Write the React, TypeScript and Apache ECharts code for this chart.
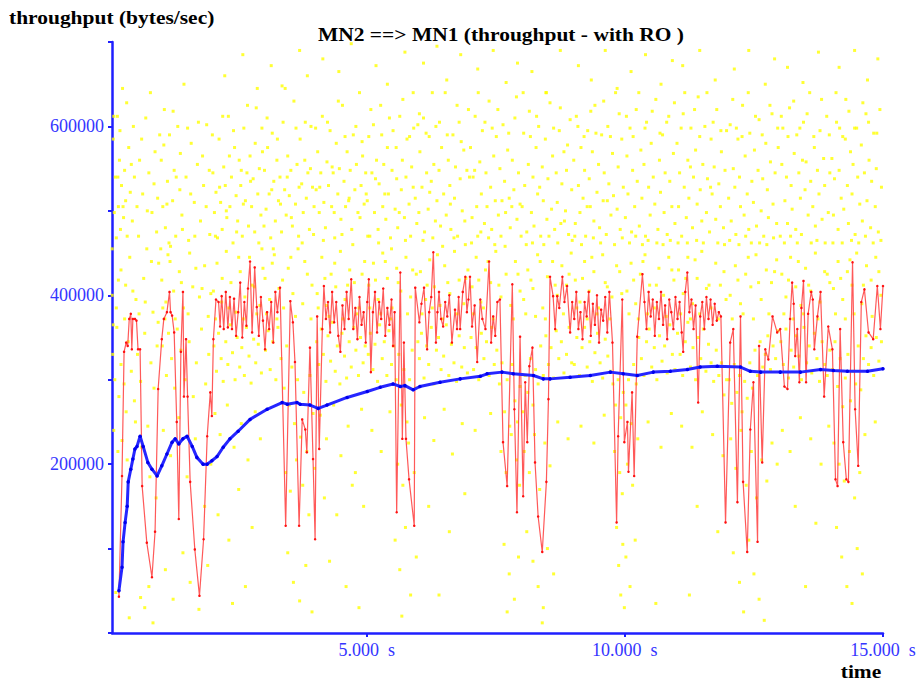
import React, { useEffect, useRef } from 'react';
import * as echarts from 'echarts';

// time axis (seconds) tick positions and throughput labels (bytes/sec)
const xTickValues = [5, 10, 15];
const yLabelValues = [200000, 400000, 600000];

// red: instantaneous throughput samples (time s, value in thousands of bytes/sec)
const redT = [
  0.20, 0.26, 0.30, 0.34, 0.37, 0.40, 0.43, 0.45, 0.47, 0.51, 0.54, 0.57, 0.61, 0.65, 0.74, 0.84, 0.90, 0.96,
  1.03, 1.07, 1.13, 1.18, 1.20, 1.23, 1.27, 1.32, 1.36, 1.40, 1.44, 1.46, 1.50, 1.53, 1.58, 1.67, 1.76, 1.84,
  1.91, 1.97, 2.00, 2.03, 2.08, 2.13, 2.16, 2.19,
  2.23, 2.27, 2.31, 2.35, 2.39, 2.43, 2.47, 2.51, 2.55, 2.59, 2.63, 2.67, 2.70, 2.74, 2.78, 2.83, 2.87, 2.91,
  2.95, 2.99, 3.03, 3.07, 3.11, 3.15, 3.19, 3.23, 3.27, 3.32, 3.43, 3.52, 3.57, 3.61, 3.69, 3.75, 3.81, 3.84,
  3.90, 3.96, 4.00, 4.04, 4.08, 4.14, 4.17,
  4.21, 4.25, 4.29, 4.33, 4.37, 4.41, 4.45, 4.49, 4.53, 4.57, 4.61, 4.65, 4.70, 4.74, 4.78, 4.82, 4.86, 4.90,
  4.94, 4.98, 5.01, 5.04, 5.08, 5.12, 5.16, 5.20, 5.24, 5.28, 5.32, 5.36, 5.40, 5.44, 5.48, 5.51, 5.54, 5.58,
  5.65, 5.69, 5.72, 5.76, 5.82, 5.92, 5.94,
  6.02, 6.06, 6.11, 6.17, 6.21, 6.25, 6.29, 6.34, 6.37, 6.40, 6.44, 6.48, 6.52, 6.56, 6.60, 6.65, 6.71, 6.75,
  6.78, 6.81, 6.86, 6.91, 6.94, 6.97, 7.00, 7.04, 7.09, 7.14, 7.20, 7.24, 7.30, 7.37, 7.41, 7.45, 7.49, 7.53, 7.58,
  7.64, 7.72, 7.82, 7.86, 7.91, 7.97, 8.03, 8.07, 8.11, 8.15, 8.21, 8.26, 8.32, 8.40, 8.48, 8.52, 8.55,
  8.61, 8.65, 8.69, 8.73, 8.79, 8.83, 8.88, 8.94, 8.98, 9.02, 9.06, 9.10, 9.14, 9.18, 9.22, 9.26, 9.30, 9.34,
  9.38, 9.42, 9.46, 9.50, 9.54, 9.58, 9.62, 9.66, 9.70, 9.76, 9.84, 9.87, 9.95, 9.99, 10.05, 10.07, 10.14, 10.18,
  10.24, 10.34,
  10.38, 10.42, 10.46, 10.50, 10.54, 10.58, 10.62, 10.66, 10.70, 10.74, 10.78, 10.82, 10.86, 10.90, 10.94, 10.98,
  11.02, 11.06, 11.10, 11.13, 11.17, 11.21, 11.25, 11.29, 11.33, 11.37, 11.42, 11.46, 11.50, 11.54, 11.58, 11.62,
  11.66, 11.70, 11.74, 11.78, 11.82, 11.86,
  11.95, 12.04, 12.10, 12.18, 12.24, 12.29, 12.37, 12.43, 12.49, 12.57, 12.60, 12.66, 12.72, 12.78, 12.86, 12.95,
  13.01, 13.09, 13.15, 13.20, 13.24, 13.27, 13.30, 13.34, 13.38, 13.42, 13.46, 13.51, 13.55, 13.61, 13.64, 13.67,
  13.73, 13.79, 13.86, 13.94, 14.02, 14.08, 14.12, 14.17, 14.23, 14.29, 14.33, 14.41, 14.46, 14.52, 14.58, 14.64,
  14.72, 14.81, 14.89, 14.95, 15.0,
];
const redV = [
  43, 186, 333, 344, 340, 372, 378, 336, 372, 372, 370, 336, 336, 174, 107, 66, 120, 289,
  348, 372, 380, 404, 380, 376, 356, 250, 135, 333, 404, 280, 348, 280, 179, 99, 44, 111,
  233, 285, 257, 348, 395, 392, 363, 399,
  360, 404, 362, 398, 360, 396, 352, 380, 415, 350, 392, 364, 408, 440, 356, 433, 386, 352,
  398, 370, 336, 380, 360, 392, 344, 404, 380, 409, 127, 393, 368, 321, 127, 253, 241, 214,
  338, 206, 111, 375, 218, 360, 411,
  372, 392, 356, 404, 368, 392, 352, 333, 388, 360, 404, 372, 419, 360, 385, 348, 398, 365,
  380, 344, 392, 419, 309, 380, 404, 356, 392, 372, 408, 352, 385, 365, 395, 340, 380, 143,
  427, 230, 344, 230, 182, 127, 409,
  368, 390, 409, 336, 380, 398, 451, 344, 380, 404, 372, 363, 392, 375, 400, 344, 383, 360,
  398, 360, 404, 422, 380, 395, 422, 363, 388, 321, 395, 372, 360, 440, 344, 375, 352, 392, 395,
  226, 174, 413, 265, 143, 351, 162, 297, 226, 316, 338, 202, 138, 96, 179, 277, 422,
  399, 360, 399, 385, 422, 392, 411, 356, 392, 372, 404, 360, 380, 348, 392, 375, 404, 352,
  390, 365, 400, 344, 383, 370, 398, 356, 404, 344, 131, 233, 395, 226, 250, 191, 285, 186,
  351, 425,
  392, 360, 404, 375, 395, 352, 392, 372, 404, 365, 388, 348, 395, 380, 360, 398,
  372, 392, 356, 333, 404, 427, 380, 395, 360, 388, 273, 375, 392, 360, 398, 372,
  395, 365, 390, 370, 380, 375,
  131, 344, 360, 155, 375, 179, 96, 241, 297, 108, 340, 202, 336, 324, 375, 356,
  360, 292, 289, 372, 415, 390, 328, 360, 297, 385, 417, 297, 378, 404, 395, 336,
  375, 404, 280, 363, 336, 182, 174, 360, 226, 182, 179, 439, 265, 198, 392, 407,
  356, 348, 411, 360, 411,
];

// blue: running average throughput (time s, value in thousands of bytes/sec)
const blueT = [
  0.20, 0.26, 0.28, 0.32, 0.36, 0.38, 0.43, 0.47, 0.51, 0.55, 0.61, 0.67, 0.76, 0.84, 0.94, 1.03, 1.13, 1.23,
  1.29, 1.36, 1.44, 1.52, 1.62, 1.71, 1.83, 1.91, 2.00, 2.10, 2.22, 2.35, 2.51, 2.74, 3.07, 3.36, 3.46, 3.65,
  3.71, 3.90, 4.06, 4.23, 4.62, 5.01, 5.26, 5.51, 5.65, 5.74, 5.90, 6.03, 6.42, 6.81, 7.20, 7.33, 7.62, 7.84,
  8.23, 8.42, 8.55, 8.94, 9.33, 9.72, 9.97, 10.24, 10.55, 10.88, 11.21, 11.46, 11.79, 12.24, 12.43, 12.63,
  13.01, 13.40, 13.79, 14.04, 14.31, 14.70, 15.0,
];
const blueV = [
  50, 78, 108, 131, 150, 179, 194, 206, 218, 221, 233, 221, 202, 194, 186, 198, 212, 226,
  230, 224, 230, 233, 221, 208, 200, 200, 204, 209, 220, 230, 239, 253, 265, 273, 271, 273,
  271, 270, 266, 270, 279, 286, 291, 295, 292, 293, 288, 292, 297, 301, 304, 307, 309, 307,
  305, 301, 301, 303, 305, 309, 307, 305, 309, 310, 312, 315, 316, 315, 310, 309,
  309, 309, 312, 311, 310, 310, 313,
];

// yellow: per-packet throughput samples [time s, value in thousands of bytes/sec]
const yellowDots: number[][] = [
  [0.05,520],[0.07,455],[0.09,585],[0.11,498],[0.13,540],[0.15,468],[0.17,612],[0.19,505],[0.21,560],[0.23,478],
  [0.25,530],[0.27,645],[0.29,492],[0.31,548],[0.33,512],[0.36,470],[0.39,575],[0.42,522],[0.46,488],[0.50,540],
  [0.55,505],[0.60,560],[0.66,520],[0.72,610],[0.78,545],[0.84,498],[0.90,570],[0.95,515],
  [0.08,330],[0.12,300],[0.16,362],[0.20,280],[0.24,318],[0.30,295],[0.34,262],[0.38,345],[0.44,310],[0.50,275],
  [0.56,330],[0.62,298],[0.70,355],[0.76,245],[0.82,320],[0.88,290],[0.94,340],
  [0.07,400],[0.15,385],[0.24,430],[0.33,412],[0.41,445],[0.53,395],[0.68,420],[0.74,455],[0.86,380],[0.97,438],
  [0.10,240],[0.18,215],[0.26,228],[0.36,205],[0.52,250],[0.64,220],[0.80,185],[0.92,160],
  [0.06,25],[0.14,48],[0.40,18],[0.62,42],[0.70,30],[0.78,55],[0.86,12],
  [1.02,560],[1.05,505],[1.08,620],[1.10,480],[1.14,535],[1.18,590],[1.20,458],[1.24,512],[1.27,548],[1.30,470],
  [1.34,600],[1.38,525],[1.42,495],[1.46,650],[1.50,540],[1.55,465],[1.60,580],[1.66,510],[1.72,555],[1.78,488],
  [1.84,530],[1.90,602],[1.96,472],
  [1.04,340],[1.09,372],[1.12,305],[1.16,355],[1.22,325],[1.28,290],[1.33,360],[1.40,335],[1.48,300],[1.56,345],
  [1.64,280],[1.70,320],[1.80,360],[1.88,295],[1.94,330],
  [1.03,418],[1.11,392],[1.19,440],[1.26,405],[1.37,428],[1.45,385],[1.57,450],[1.63,410],[1.76,398],[1.86,435],[1.98,402],
  [1.06,240],[1.20,210],[1.36,255],[1.52,185],[1.68,230],[1.86,150],[1.98,200],
  [1.10,75],[1.25,40],[1.44,95],[1.58,60],[1.75,28],[1.92,80],
  [2.02,545],[2.05,498],[2.08,522],[2.11,468],[2.14,585],[2.17,510],[2.20,478],[2.23,552],[2.26,530],[2.29,492],
  [2.32,612],[2.35,505],[2.38,540],[2.41,462],[2.44,575],[2.47,518],[2.50,488],[2.53,560],[2.56,530],[2.59,470],
  [2.62,598],[2.65,512],[2.68,545],[2.71,482],[2.74,565],[2.77,505],[2.80,538],[2.83,475],[2.86,622],[2.89,520],
  [2.92,550],[2.95,495],[2.98,570],
  [2.04,340],[2.09,310],[2.13,355],[2.18,325],[2.22,298],[2.27,345],[2.31,318],[2.36,365],[2.40,332],[2.45,300],
  [2.49,350],[2.54,315],[2.58,338],[2.63,305],[2.67,362],[2.72,328],[2.76,296],[2.81,348],[2.85,320],[2.90,342],[2.96,308],
  [2.03,405],[2.10,438],[2.19,392],[2.28,452],[2.37,415],[2.46,380],[2.55,428],[2.64,398],[2.73,445],[2.82,410],[2.93,388],[2.99,432],
  [2.06,260],[2.16,235],[2.30,270],[2.43,220],[2.57,248],[2.70,205],[2.84,262],[2.94,230],
  [2.12,140],[2.33,110],[2.52,170],[2.78,125],[2.40,35],[2.65,55],
  [2.25,660],[2.60,685],[2.88,645],
  [3.02,548],[3.05,502],[3.08,575],[3.11,520],[3.14,468],[3.17,592],[3.20,535],[3.23,488],[3.26,560],[3.29,512],
  [3.32,540],[3.35,475],[3.38,605],[3.41,525],[3.44,495],[3.47,565],[3.50,518],[3.53,548],[3.56,482],[3.59,630],
  [3.62,508],[3.65,555],[3.68,470],[3.71,585],[3.74,532],[3.77,498],[3.80,560],[3.83,515],[3.86,545],[3.89,478],
  [3.92,600],[3.95,528],[3.98,505],
  [3.04,335],[3.09,358],[3.13,312],[3.18,345],[3.24,300],[3.28,362],[3.34,325],[3.40,290],[3.45,340],[3.50,270],
  [3.55,315],[3.60,248],[3.66,300],[3.72,232],[3.78,285],[3.84,215],[3.90,305],[3.96,260],
  [3.03,420],[3.12,395],[3.21,448],[3.30,408],[3.39,385],[3.48,432],[3.57,402],[3.67,455],[3.76,390],[3.85,425],[3.94,412],
  [3.43,190],[3.52,168],[3.64,205],[3.76,175],[3.88,140],[3.99,195],
  [3.47,95],[3.58,60],[3.70,38],[3.82,80],[3.94,25],
  [3.15,672],[3.36,648],[3.70,690],[3.85,660],
  [4.02,525],[4.05,570],[4.08,498],[4.11,545],[4.14,612],[4.17,510],[4.20,480],[4.23,558],[4.26,530],[4.29,595],
  [4.32,505],[4.35,545],[4.38,468],[4.41,580],[4.44,520],[4.47,550],[4.50,490],[4.53,625],[4.56,535],[4.59,505],
  [4.62,570],[4.65,512],[4.68,548],[4.71,478],[4.74,590],[4.77,525],[4.80,555],[4.83,498],[4.86,640],[4.89,530],
  [4.92,565],[4.95,508],[4.98,545],
  [4.03,345],[4.07,318],[4.12,360],[4.16,330],[4.21,298],[4.25,352],[4.30,322],[4.34,368],[4.39,310],[4.43,340],
  [4.48,295],[4.52,355],[4.57,328],[4.61,302],[4.66,345],[4.70,315],[4.75,362],[4.79,335],[4.84,305],[4.88,350],
  [4.93,320],[4.97,340],
  [4.04,402],[4.13,445],[4.22,388],[4.31,425],[4.40,410],[4.49,452],[4.58,395],[4.67,430],[4.76,415],[4.85,385],[4.96,440],
  [4.10,258],[4.22,230],[4.36,270],[4.50,210],[4.64,245],[4.78,190],[4.90,265],
  [4.18,160],[4.42,140],[4.72,175],[4.94,150],
  [4.28,85],[4.60,55],[4.85,30],
  [4.15,680],[4.46,665],[4.70,698],
  [5.01,512],[5.04,588],[5.06,470],[5.10,545],[5.13,602],[5.15,498],[5.19,560],[5.22,478],[5.24,532],[5.27,625],
  [5.31,505],[5.33,555],[5.37,490],[5.40,575],[5.42,520],[5.46,468],[5.49,548],[5.51,595],[5.55,502],[5.58,538],
  [5.60,480],[5.64,612],[5.67,525],[5.69,560],[5.73,492],[5.76,540],[5.78,585],[5.82,508],[5.85,470],[5.87,552],
  [5.91,598],[5.94,515],[5.97,485],
  [5.03,330],[5.07,355],[5.12,312],[5.16,342],[5.21,298],[5.25,365],[5.30,325],[5.34,345],[5.39,305],[5.43,358],
  [5.48,318],[5.52,340],[5.57,300],[5.62,330],[5.67,270],[5.72,312],[5.78,250],[5.83,300],[5.88,335],[5.94,290],[5.99,345],
  [5.04,412],[5.13,438],[5.22,395],[5.31,450],[5.40,420],[5.49,385],[5.58,432],[5.66,405],[5.76,445],[5.85,398],[5.96,425],
  [5.10,240],[5.28,215],[5.45,262],[5.60,200],[5.70,175],[5.81,225],[5.92,190],
  [5.55,110],[5.64,75],[5.75,125],[5.85,45],[5.96,90],[5.68,20],
  [5.18,672],[5.40,650],[5.74,688],[5.90,640],
  [6.01,498],[6.03,570],[6.07,528],[6.10,610],[6.12,475],[6.16,545],[6.19,502],[6.21,588],[6.25,535],[6.28,468],
  [6.30,555],[6.34,600],[6.36,512],[6.40,548],[6.43,482],[6.45,575],[6.49,520],[6.52,640],[6.54,495],[6.58,560],
  [6.61,530],[6.63,478],[6.67,590],[6.70,515],[6.72,552],[6.76,470],[6.79,605],[6.81,538],[6.85,500],[6.88,572],
  [6.90,488],[6.94,548],[6.97,620],
  [6.02,325],[6.06,355],[6.11,302],[6.16,340],[6.20,318],[6.25,362],[6.30,295],[6.35,335],[6.39,350],[6.44,312],
  [6.49,328],[6.54,365],[6.59,305],[6.64,342],[6.69,320],[6.74,298],[6.79,352],[6.84,315],[6.89,338],[6.95,308],
  [6.04,428],[6.14,395],[6.22,442],[6.31,410],[6.42,388],[6.51,435],[6.61,402],[6.70,452],[6.79,418],[6.88,390],[6.96,430],
  [6.12,255],[6.30,228],[6.50,265],[6.66,212],[6.85,248],
  [6.20,150],[6.60,120],[6.90,165],[6.40,45],
  [6.10,675],[6.36,695],[6.55,655],[6.82,685],
  [7.01,575],[7.04,492],[7.06,540],[7.10,612],[7.13,505],[7.15,470],[7.19,558],[7.22,520],[7.24,595],[7.28,485],
  [7.31,545],[7.33,505],[7.37,630],[7.40,528],[7.42,478],[7.46,565],[7.49,512],[7.51,588],[7.55,495],[7.58,550],
  [7.60,470],[7.64,602],[7.67,535],[7.69,498],[7.73,572],[7.76,515],[7.78,480],[7.82,560],[7.85,525],[7.87,610],
  [7.91,490],[7.94,545],[7.97,508],
  [7.02,350],[7.07,312],[7.12,338],[7.17,300],[7.22,355],[7.27,325],[7.32,345],[7.37,305],[7.42,362],[7.47,318],
  [7.52,335],[7.57,295],[7.62,320],[7.67,262],[7.72,300],[7.77,245],[7.82,318],[7.87,275],[7.92,250],[7.97,292],
  [7.04,410],[7.12,445],[7.21,392],[7.30,430],[7.40,415],[7.50,452],[7.60,398],[7.70,425],[7.79,388],[7.88,440],[7.97,405],
  [7.10,240],[7.40,260],[7.60,215],[7.70,190],[7.80,235],[7.90,205],[7.96,175],
  [7.66,105],[7.76,70],[7.86,40],[7.94,90],[7.72,25],
  [7.15,668],[7.45,690],[7.70,652],[7.92,675],
  [8.01,505],[8.04,592],[8.06,530],[8.10,475],[8.13,555],[8.15,618],[8.19,498],[8.22,540],[8.24,482],[8.28,575],
  [8.31,520],[8.33,600],[8.37,470],[8.40,552],[8.42,512],[8.46,585],[8.49,490],[8.51,538],[8.55,628],[8.58,502],
  [8.60,565],[8.64,478],[8.67,545],[8.69,510],[8.73,595],[8.76,485],[8.78,532],[8.82,570],[8.85,500],[8.87,548],
  [8.91,472],[8.94,608],[8.97,525],
  [8.02,262],[8.07,305],[8.12,285],[8.17,325],[8.22,270],[8.27,312],[8.32,295],[8.37,340],[8.42,305],[8.47,352],
  [8.52,318],[8.57,338],[8.62,302],[8.67,358],[8.72,325],[8.77,345],[8.82,308],[8.87,330],[8.92,362],[8.97,320],
  [8.04,395],[8.12,430],[8.22,408],[8.31,448],[8.41,385],[8.50,422],[8.60,440],[8.69,400],[8.78,435],[8.87,412],[8.96,450],
  [8.05,215],[8.15,190],[8.25,235],[8.35,170],[8.45,225],[8.55,198],[8.70,250],[8.90,230],
  [8.10,120],[8.22,85],[8.32,55],[8.42,30],[8.50,100],[8.62,70],[8.40,12],
  [8.20,665],[8.48,640],[8.75,690],
  [9.01,560],[9.04,485],[9.06,612],[9.10,530],[9.13,498],[9.15,575],[9.19,515],[9.22,548],[9.24,470],[9.28,595],
  [9.31,538],[9.33,505],[9.37,570],[9.40,488],[9.42,625],[9.46,522],[9.49,555],[9.51,480],[9.55,590],[9.58,512],
  [9.60,545],[9.64,472],[9.67,600],[9.69,532],[9.73,495],[9.76,568],[9.78,518],[9.82,640],[9.85,502],[9.87,552],
  [9.91,478],[9.94,585],[9.97,528],
  [9.02,318],[9.07,350],[9.12,305],[9.17,338],[9.22,362],[9.27,315],[9.32,345],[9.37,298],[9.42,332],[9.47,355],
  [9.52,320],[9.57,302],[9.62,348],[9.67,328],[9.72,310],[9.77,295],[9.82,270],[9.87,300],[9.92,255],[9.97,285],
  [9.04,418],[9.13,392],[9.22,440],[9.31,405],[9.40,428],[9.49,385],[9.57,448],[9.66,410],[9.75,398],[9.84,435],[9.94,402],
  [9.15,245],[9.40,225],[9.60,258],[9.80,215],[9.90,190],[9.95,165],
  [9.84,125],[9.88,80],[9.92,45],[9.96,105],[9.99,30],
  [9.10,672],[9.35,655],[9.62,690],[9.85,645],
  [10.01,492],[10.04,565],[10.06,520],[10.10,598],[10.13,475],[10.15,548],[10.19,505],[10.22,620],[10.24,535],[10.28,482],
  [10.31,572],[10.33,515],[10.37,555],[10.40,470],[10.42,605],[10.46,528],[10.49,495],[10.51,580],[10.55,540],[10.58,508],
  [10.60,632],[10.64,478],[10.67,560],[10.69,522],[10.73,590],[10.76,498],[10.78,545],[10.82,472],[10.85,612],[10.87,535],
  [10.91,505],[10.94,568],[10.97,485],
  [10.02,270],[10.07,300],[10.12,248],[10.17,318],[10.22,295],[10.27,350],[10.32,325],[10.37,305],[10.42,345],[10.47,360],
  [10.52,315],[10.57,338],[10.62,300],[10.67,352],[10.72,322],[10.77,340],[10.82,308],[10.87,365],[10.92,330],[10.97,312],
  [10.04,405],[10.12,438],[10.21,390],[10.30,425],[10.39,448],[10.48,412],[10.57,385],[10.66,432],[10.75,400],[10.85,445],[10.95,418],
  [10.05,200],[10.15,175],[10.25,230],[10.45,250],[10.70,220],[10.90,260],
  [10.02,90],[10.10,55],[10.20,110],[10.60,35],
  [10.12,665],[10.40,685],[10.70,650],[10.92,678],
  [11.01,580],[11.04,505],[11.06,545],[11.10,470],[11.13,615],[11.15,528],[11.19,492],[11.22,560],[11.24,515],[11.28,598],
  [11.31,480],[11.33,540],[11.37,572],[11.40,508],[11.42,635],[11.46,525],[11.49,488],[11.51,555],[11.55,600],[11.58,498],
  [11.60,538],[11.64,475],[11.67,585],[11.69,520],[11.73,552],[11.76,490],[11.78,620],[11.82,532],[11.85,505],[11.87,570],
  [11.91,480],[11.94,548],[11.97,595],
  [11.02,355],[11.07,330],[11.12,305],[11.17,345],[11.22,368],[11.27,315],[11.32,338],[11.37,300],[11.42,350],[11.47,325],
  [11.52,360],[11.57,310],[11.62,342],[11.67,320],[11.72,298],[11.77,335],[11.82,305],[11.87,320],[11.92,282],[11.97,300],
  [11.04,430],[11.13,402],[11.22,445],[11.31,390],[11.40,420],[11.49,452],[11.58,408],[11.67,385],[11.76,438],[11.85,412],[11.96,395],
  [11.10,245],[11.30,220],[11.50,262],[11.70,235],[11.90,210],
  [11.40,150],[11.80,120],[11.25,45],
  [11.12,672],[11.45,690],[11.75,655],
  [12.01,515],[12.04,602],[12.06,488],[12.10,550],[12.13,528],[12.15,472],[12.19,585],[12.22,540],[12.24,505],[12.28,625],
  [12.31,495],[12.33,565],[12.37,520],[12.40,478],[12.42,592],[12.46,535],[12.49,510],[12.51,572],[12.55,482],[12.58,548],
  [12.60,608],[12.64,500],[12.67,538],[12.69,470],[12.73,580],[12.76,525],[12.78,492],[12.82,558],[12.85,615],[12.87,508],
  [12.91,545],[12.94,485],[12.97,575],
  [12.02,300],[12.07,272],[12.12,318],[12.17,285],[12.22,305],[12.27,262],[12.32,298],[12.37,278],[12.42,320],[12.47,290],
  [12.52,335],[12.57,305],[12.62,345],[12.67,315],[12.72,330],[12.77,352],[12.82,312],[12.87,340],[12.92,325],[12.97,358],
  [12.04,400],[12.14,435],[12.24,390],[12.34,425],[12.44,410],[12.54,448],[12.64,395],[12.74,430],[12.84,415],[12.94,442],
  [12.05,230],[12.15,195],[12.25,240],[12.35,175],[12.45,215],[12.55,160],[12.65,205],[12.75,180],[12.85,225],[12.95,200],
  [12.10,95],[12.22,60],[12.30,25],[12.40,110],[12.50,70],[12.60,40],[12.70,15],
  [12.12,668],[12.40,690],[12.72,650],[12.90,680],
  [13.01,470],[13.04,555],[13.06,598],[13.10,512],[13.13,540],[13.15,485],[13.19,622],[13.22,530],[13.24,502],[13.28,568],
  [13.31,478],[13.33,590],[13.37,545],[13.40,515],[13.42,472],[13.46,605],[13.49,525],[13.51,558],[13.55,495],[13.58,640],
  [13.60,535],[13.64,505],[13.67,575],[13.69,482],[13.73,548],[13.76,520],[13.78,595],[13.82,490],[13.85,562],[13.87,530],
  [13.91,612],[13.94,498],[13.97,545],
  [13.02,345],[13.07,318],[13.12,360],[13.17,302],[13.22,335],[13.27,315],[13.32,352],[13.37,328],[13.42,300],[13.47,362],
  [13.52,320],[13.57,340],[13.62,308],[13.67,355],[13.72,325],[13.77,298],[13.82,345],[13.87,318],[13.92,305],[13.97,335],
  [13.04,425],[13.12,398],[13.21,445],[13.31,410],[13.41,388],[13.50,432],[13.60,405],[13.69,450],[13.78,392],[13.87,428],[13.97,415],
  [13.05,240],[13.20,215],[13.40,255],[13.60,230],[13.80,200],[13.95,245],
  [13.30,150],[13.70,130],[13.50,55],
  [13.15,670],[13.45,652],[13.75,688],
  [14.01,562],[14.04,495],[14.06,538],[14.10,605],[14.13,478],[14.15,548],[14.19,515],[14.22,588],[14.24,502],[14.28,632],
  [14.31,530],[14.33,485],[14.37,570],[14.40,520],[14.42,555],[14.46,472],[14.49,598],[14.51,540],[14.55,508],[14.58,578],
  [14.60,488],[14.64,545],[14.67,615],[14.69,512],[14.73,560],[14.76,480],[14.78,535],[14.82,592],[14.85,505],[14.87,550],
  [14.91,475],[14.94,620],[14.97,528],
  [14.02,312],[14.07,345],[14.12,292],[14.17,325],[14.22,268],[14.27,302],[14.32,330],[14.37,275],[14.42,310],[14.47,295],
  [14.52,340],[14.57,288],[14.62,325],[14.67,352],[14.72,318],[14.77,338],[14.82,305],[14.87,350],[14.92,322],[14.97,345],
  [14.04,408],[14.13,440],[14.22,395],[14.31,428],[14.40,412],[14.49,450],[14.59,390],[14.68,435],[14.77,418],[14.86,445],[14.96,400],
  [14.05,225],[14.15,200],[14.25,180],[14.35,215],[14.45,160],[14.55,190],[14.65,235],[14.85,250],
  [14.10,125],[14.20,90],[14.30,55],[14.40,35],[14.50,100],[14.60,70],
  [14.15,670],[14.45,690],[14.70,655],[14.90,680],
];

// more yellow samples read from the dense cloud (upper band and the band behind the red trace)
const yellowDotsMore: number[][] = [
  [0.04,565],[0.10,612],[0.18,540],[0.22,595],[0.28,505],[0.35,628],[0.44,555],[0.48,600],[0.58,470],[0.64,585],[0.75,500],[0.81,640],[0.88,532],[0.93,475],[0.99,590],
  [1.01,455],[1.07,578],[1.13,508],[1.17,462],[1.25,618],[1.31,540],[1.39,568],[1.43,478],[1.53,598],[1.59,520],[1.67,470],[1.74,605],[1.82,565],[1.89,505],[1.95,548],
  [2.01,590],[2.07,470],[2.15,528],[2.21,612],[2.28,500],[2.34,565],[2.42,595],[2.48,475],[2.57,548],[2.61,508],[2.69,625],[2.75,535],[2.84,580],[2.91,462],[2.97,598],
  [3.01,482],[3.07,610],[3.16,525],[3.19,455],[3.27,585],[3.33,508],[3.42,645],[3.46,540],[3.54,492],[3.63,598],[3.69,528],[3.75,462],[3.81,605],[3.91,550],[3.97,472],
  [4.01,598],[4.09,528],[4.16,465],[4.24,605],[4.33,552],[4.37,498],[4.45,630],[4.52,472],[4.58,588],[4.66,515],[4.73,460],[4.79,600],[4.87,492],[4.91,582],[4.99,520],
  [5.02,470],[5.08,620],[5.17,538],[5.23,462],[5.29,590],[5.35,520],[5.44,610],[5.48,455],[5.57,575],[5.63,498],[5.70,632],[5.75,465],[5.83,588],[5.90,528],[5.99,602],
  [6.02,615],[6.09,465],[6.15,592],[6.22,522],[6.27,640],[6.33,488],[6.41,605],[6.47,458],[6.56,590],[6.62,508],[6.69,468],[6.75,625],[6.83,582],[6.91,460],[6.99,540],
  [7.03,462],[7.09,548],[7.16,640],[7.21,475],[7.29,605],[7.36,468],[7.43,598],[7.48,460],[7.54,620],[7.62,512],[7.68,458],[7.75,592],[7.81,505],[7.90,635],[7.99,470],
  [8.03,640],[8.09,460],[8.17,588],[8.21,462],[8.29,612],[8.35,528],[8.43,460],[8.47,640],[8.53,470],[8.62,598],[8.70,462],[8.75,622],[8.83,488],[8.89,578],[8.98,465],
  [9.03,470],[9.09,600],[9.16,460],[9.21,588],[9.27,505],[9.34,618],[9.39,468],[9.44,592],[9.53,462],[9.59,630],[9.66,512],[9.72,588],[9.80,460],[9.89,615],[9.95,468],
  [10.03,612],[10.09,462],[10.16,588],[10.21,470],[10.27,640],[10.34,460],[10.39,598],[10.45,465],[10.53,618],[10.62,462],[10.68,592],[10.74,460],[10.81,605],[10.88,465],[10.96,628],
  [11.03,462],[11.09,598],[11.16,640],[11.21,462],[11.27,552],[11.35,620],[11.39,465],[11.45,588],[11.52,462],[11.59,640],[11.66,528],[11.71,605],[11.80,462],[11.86,595],[11.93,460],
  [12.03,465],[12.09,632],[12.16,598],[12.21,460],[12.27,588],[12.34,470],[12.39,640],[12.45,462],[12.53,612],[12.61,462],[12.66,590],[12.75,460],[12.81,625],[12.88,468],[12.96,598],
  [13.03,612],[13.09,462],[13.16,588],[13.21,470],[13.27,630],[13.34,462],[13.39,598],[13.44,560],[13.53,615],[13.61,462],[13.66,588],[13.72,465],[13.81,632],[13.88,462],[13.96,590],
  [14.03,462],[14.09,640],[14.16,598],[14.21,462],[14.27,585],[14.34,618],[14.39,465],[14.45,598],[14.53,462],[14.61,628],[14.66,470],[14.72,605],[14.81,462],[14.88,592],[14.96,465],
  [0.09,365],[0.19,418],[0.31,372],[0.47,405],[0.59,378],[0.71,392],[0.83,440],[0.96,368],
  [1.05,385],[1.15,448],[1.29,372],[1.41,415],[1.54,378],[1.69,432],[1.81,408],[1.93,375],
  [2.07,372],[2.20,420],[2.33,385],[2.52,445],[2.61,372],[2.78,412],[2.87,378],[2.97,455],
  [3.06,378],[3.17,438],[3.26,372],[3.37,418],[3.53,445],[3.62,375],[3.80,440],[3.92,372],
  [4.06,385],[4.19,420],[4.27,375],[4.38,438],[4.54,372],[4.63,412],[4.81,378],[4.91,425],
  [5.06,385],[5.17,418],[5.27,378],[5.36,440],[5.46,372],[5.61,415],[5.79,378],[5.89,430],
  [6.07,378],[6.17,412],[6.27,385],[6.37,448],[6.47,372],[6.57,415],[6.75,378],[6.92,420],
  [7.07,378],[7.17,418],[7.26,385],[7.35,440],[7.45,372],[7.56,412],[7.84,372],[7.93,425],
  [8.08,378],[8.18,418],[8.27,375],[8.36,440],[8.46,372],[8.65,412],[8.81,378],[8.92,425],
  [9.07,385],[9.18,420],[9.27,372],[9.36,445],[9.46,378],[9.62,415],[9.71,372],[9.90,428],
  [10.08,378],[10.17,418],[10.26,372],[10.35,440],[10.44,378],[10.61,412],[10.80,375],[10.91,430],
  [11.08,378],[11.18,420],[11.27,372],[11.36,442],[11.45,378],[11.63,412],[11.81,372],[11.92,428],
  [12.08,372],[12.19,418],[12.29,378],[12.39,445],[12.49,372],[12.59,415],[12.79,378],[12.90,428],
  [13.08,378],[13.17,418],[13.26,372],[13.36,440],[13.46,378],[13.56,412],[13.74,372],[13.92,425],
  [14.08,378],[14.18,420],[14.27,372],[14.36,442],[14.44,378],[14.62,412],[14.79,375],[14.92,428],
];

const AXIS_BLUE = '#1f1fff';
const LABEL_BLUE = '#3535ff';
const SERIF = '"Liberation Serif", "Times New Roman", serif';

export default function App() {
  const ref = useRef<HTMLDivElement>(null);

  useEffect(() => {
    if (!ref.current) return;
    const chart = echarts.init(ref.current, null, { renderer: 'svg' });
    const red = redT.map((t, i) => [t, redV[i] * 1000]);
    const blue = blueT.map((t, i) => [t, blueV[i] * 1000]);
    const yellow = yellowDots.concat(yellowDotsMore).map((p) => [p[0], p[1] * 1000]);

    chart.setOption({
      animation: false,
      backgroundColor: '#ffffff',
      grid: { left: 112, right: 37, top: 42, bottom: 53, containLabel: false },
      xAxis: {
        type: 'value',
        min: 0.066,
        max: 15,
        axisLine: { show: true, onZero: false, lineStyle: { color: AXIS_BLUE, width: 2.5 } },
        axisTick: { show: true, customValues: xTickValues, length: 4, lineStyle: { color: AXIS_BLUE, width: 2 } },
        axisLabel: {
          customValues: xTickValues,
          formatter: (v: number) => v.toFixed(3) + '  s',
          color: LABEL_BLUE,
          fontFamily: SERIF,
          fontSize: 18,
          margin: 8,
        },
        splitLine: { show: false },
      },
      yAxis: {
        type: 'value',
        min: 0,
        max: 700000,
        interval: 100000,
        axisLine: { show: true, onZero: false, lineStyle: { color: AXIS_BLUE, width: 2.5 } },
        axisTick: { show: true, length: 4, lineStyle: { color: AXIS_BLUE, width: 2 } },
        axisLabel: {
          formatter: (v: number) => (yLabelValues.indexOf(v) >= 0 ? String(v) : ''),
          color: LABEL_BLUE,
          fontFamily: SERIF,
          fontSize: 18,
          margin: 8,
        },
        splitLine: { show: false },
      },
      graphic: [
        { type: 'text', x: 9, y: 8, scaleX: 1.13, style: { text: 'throughput (bytes/sec)', font: 'bold 19px ' + SERIF, fill: '#000' } },
        { type: 'text', x: 501, y: 25, scaleX: 1.13, style: { text: 'MN2 ==> MN1 (throughput - with RO )', font: 'bold 19px ' + SERIF, fill: '#000', align: 'center' } },
        { type: 'text', x: 861, y: 662, scaleX: 1.13, style: { text: 'time', font: 'bold 19px ' + SERIF, fill: '#000', align: 'center' } },
      ],
      series: [
        {
          type: 'scatter',
          data: yellow,
          symbol: 'rect',
          symbolSize: 3,
          itemStyle: { color: '#ffff00' },
          silent: true,
          z: 1,
        },
        {
          type: 'line',
          data: red,
          symbol: 'circle',
          symbolSize: 2.5,
          showSymbol: true,
          lineStyle: { color: 'rgba(255,60,60,0.85)', width: 1.2 },
          itemStyle: { color: '#ff1010' },
          silent: true,
          z: 2,
        },
        {
          type: 'line',
          data: blue,
          symbol: 'circle',
          symbolSize: 3.5,
          showSymbol: true,
          lineStyle: { color: '#2626ff', width: 3 },
          itemStyle: { color: '#0000ee' },
          silent: true,
          z: 3,
        },
      ],
    });
    return () => chart.dispose();
  }, []);

  return <div ref={ref} style={{ position: 'absolute', left: 0, top: 0, width: 920, height: 686 }} />;
}
